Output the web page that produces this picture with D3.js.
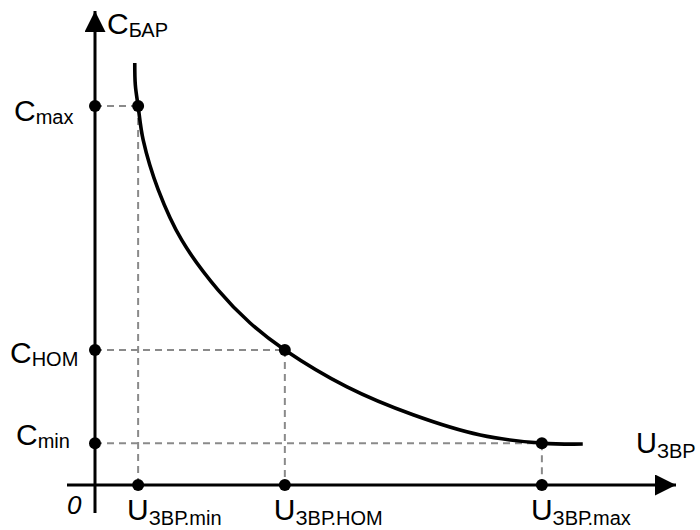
<!DOCTYPE html>
<html>
<head>
<meta charset="utf-8">
<script src="https://cdn.jsdelivr.net/npm/d3@7"></script>
<style>
  body { margin: 0; background: #fff; }
  text { font-family: "Liberation Sans", Arial, sans-serif; fill: #000; }
</style>
</head>
<body>
<svg id="chart" width="700" height="530"></svg>
<script>
// curve (U and C in arbitrary units)
const curveU = [0.71, 0.72, 0.77, 0.86, 1.13, 1.55, 2.20, 2.77, 3.39, 4.50, 5.68, 6.88, 7.98, 8.71];
const curveC = [9.38, 8.89, 8.42, 7.67, 6.56, 5.44, 4.33, 3.60, 3.00, 2.18, 1.56, 1.11, 0.93, 0.91];

// marked operating points
const markU = [0.77, 3.39, 7.98];
const markC = [8.42, 3.00, 0.93];
const uSubs = ["ЗВР.min", "ЗВР.НОМ", "ЗВР.max"];
const cSubs = ["max", "НОМ", "min"];

const svg = d3.select("#chart");

const x = d3.scaleLinear().domain([0, 10]).range([95, 655]);
const y = d3.scaleLinear().domain([0, 10]).range([485, 35]);

/***** dashed guides *****/
const guides = svg.append("g")
    .attr("stroke", "#8a8a8a")
    .attr("stroke-width", 2)
    .attr("stroke-dasharray", "7,5")
    .attr("fill", "none");

markU.forEach((u, i) => {
    guides.append("line")
        .attr("x1", x(0)).attr("x2", x(u))
        .attr("y1", y(markC[i])).attr("y2", y(markC[i]));
    guides.append("line")
        .attr("x1", x(u)).attr("x2", x(u))
        .attr("y1", y(markC[i])).attr("y2", y(0));
});

/***** axes with arrows *****/
svg.append("defs").append("marker")
    .attr("id", "arrow")
    .attr("viewBox", "0 0 10 10")
    .attr("refX", 10).attr("refY", 5)
    .attr("markerWidth", 7).attr("markerHeight", 7)
    .attr("markerUnits", "strokeWidth")
    .attr("orient", "auto")
  .append("path")
    .attr("d", "M0,0 L10,5 L0,10 Z")
    .attr("fill", "#000");

svg.append("line")
    .attr("x1", 67).attr("x2", 676)
    .attr("y1", y(0)).attr("y2", y(0))
    .attr("stroke", "#000").attr("stroke-width", 3)
    .attr("marker-end", "url(#arrow)");

svg.append("line")
    .attr("x1", x(0)).attr("x2", x(0))
    .attr("y1", 513).attr("y2", 11)
    .attr("stroke", "#000").attr("stroke-width", 3)
    .attr("marker-end", "url(#arrow)");

/***** the curve *****/
const pts = curveU.map((u, i) => [u, curveC[i]]);
svg.append("path")
    .datum(pts)
    .attr("fill", "none")
    .attr("stroke", "#000")
    .attr("stroke-width", 3.6)
    .attr("d", d3.line()
        .x(d => x(d[0]))
        .y(d => y(d[1]))
        .curve(d3.curveCatmullRom.alpha(0.5)));

/***** dots *****/
const dots = [];
markU.forEach((u, i) => {
    dots.push([u, markC[i]], [0, markC[i]], [u, 0]);
});
svg.selectAll(".dot")
    .data(dots)
    .join("circle")
    .attr("class", "dot")
    .attr("cx", d => x(d[0]))
    .attr("cy", d => y(d[1]))
    .attr("r", 6)
    .attr("fill", "#000");

/***** labels *****/
function label(px, py, main, sub, mainSize, subSize, subDy) {
    const t = svg.append("text")
        .attr("x", px).attr("y", py)
        .style("font-size", mainSize + "px");
    t.append("tspan").text(main);
    t.append("tspan")
        .attr("dy", subDy)
        .style("font-size", subSize + "px")
        .text(sub);
    return t;
}

label(107, 34, "C", "БАР", 30, 20, 3);
label(636, 453, "U", "ЗВР", 29, 20, 5);

const cLabelX = [14, 10, 16];
const cLabelDy = [15, 13, 2];
markC.forEach((c, i) => {
    label(cLabelX[i], y(c) + cLabelDy[i], "C", cSubs[i], 30, 20, 3);
});

markU.forEach((u, i) => {
    label(x(u) - 11, 520, "U", uSubs[i], 30, 20, 5);
});

svg.append("text")
    .attr("x", 67).attr("y", 514)
    .style("font-size", "26px")
    .style("font-style", "italic")
    .text("0");
</script>
</body>
</html>
